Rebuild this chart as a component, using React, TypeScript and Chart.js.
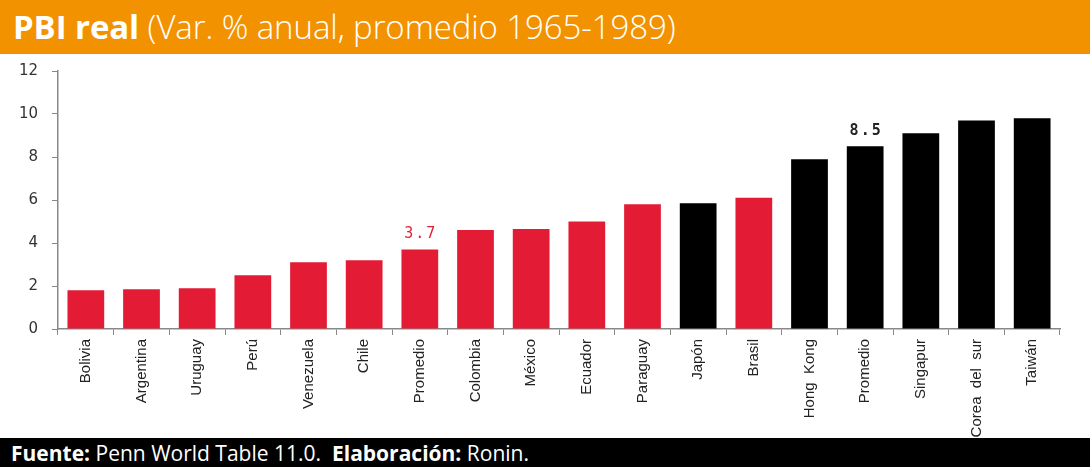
import React, { useEffect, useRef } from 'react';
import { Chart, registerables } from 'chart.js';

Chart.register(...registerables);

const categories = [
  'Bolivia', 'Argentina', 'Uruguay', 'Perú', 'Venezuela', 'Chile', 'Promedio',
  'Colombia', 'México', 'Ecuador', 'Paraguay', 'Japón', 'Brasil', 'Hong  Kong',
  'Promedio', 'Singapur', 'Corea  del  sur', 'Taiwán',
];
const growth = [1.8, 1.85, 1.9, 2.5, 3.1, 3.2, 3.7, 4.6, 4.65, 5.0, 5.8, 5.85, 6.1, 7.9, 8.5, 9.1, 9.7, 9.8];
// true = Asia (black), false = Latinoamérica (red)
const isAsia = [false, false, false, false, false, false, false, false, false, false, false, true, false, true, true, true, true, true];
// only the two averages get a value label
const labelled = [6, 14];
const yTicks = [0, 2, 4, 6, 8, 10, 12];

const RED = '#E31B35';
const BLACK = '#000000';

const valueLabels = {
  id: 'valueLabels',
  afterDatasetsDraw(chart: any) {
    const { ctx } = chart;
    const meta = chart.getDatasetMeta(0);
    ctx.save();
    ctx.textAlign = 'center';
    ctx.textBaseline = 'bottom';
    (ctx as any).letterSpacing = '2px';
    labelled.forEach((i) => {
      const bar = meta.data[i];
      ctx.font = (isAsia[i] ? 'bold ' : '') + '15px "DejaVu Sans Mono"';
      ctx.fillStyle = isAsia[i] ? '#222' : RED;
      ctx.fillText(growth[i].toFixed(1), bar.x + 1, bar.y - 8);
    });
    ctx.restore();
  },
};

const BarChart: React.FC = () => {
  const ref = useRef<HTMLCanvasElement | null>(null);

  useEffect(() => {
    if (!ref.current) return;
    const chart = new Chart(ref.current, {
      type: 'bar',
      data: {
        labels: categories,
        datasets: [
          {
            data: growth,
            backgroundColor: isAsia.map((a) => (a ? BLACK : RED)),
            categoryPercentage: 1,
            barPercentage: 0.66,
          },
        ],
      },
      options: {
        responsive: false,
        animation: false,
        layout: { padding: { top: 17, right: 30, left: 0, bottom: 0 } },
        plugins: { legend: { display: false }, tooltip: { enabled: false } },
        scales: {
          x: {
            grid: { drawOnChartArea: false, drawTicks: true, tickLength: 6, color: '#888', offset: true },
            border: { display: true, color: '#888', width: 1.5 },
            ticks: {
              minRotation: 90,
              maxRotation: 90,
              autoSkip: false,
              padding: 4,
              color: '#222',
              font: { family: '"Liberation Sans", Arial, sans-serif', size: 15 },
            },
            afterFit: (scale: any) => {
              scale.height = 109;
            },
          },
          y: {
            min: 0,
            max: 12,
            afterBuildTicks: (scale: any) => {
              scale.ticks = yTicks.map((v) => ({ value: v }));
            },
            grid: { drawOnChartArea: false, drawTicks: true, tickLength: 6, color: '#888' },
            border: { display: true, color: '#888', width: 1.5 },
            ticks: {
              padding: 14,
              color: '#333',
              font: { family: '"DejaVu Sans", sans-serif', size: 15 },
            },
            afterFit: (scale: any) => {
              scale.width = 58;
              scale.paddingTop = 0;
              scale.paddingBottom = 0;
            },
          },
        },
      },
      plugins: [valueLabels],
    });
    return () => chart.destroy();
  }, []);

  return <canvas ref={ref} width={1090} height={384} style={{ display: 'block' }} />;
};

export default function App() {
  useEffect(() => {
    document.body.style.margin = '0';
  }, []);

  return (
    <div style={{ width: 1090, height: 467, background: '#fff', overflow: 'hidden', fontFamily: '"Open Sans", sans-serif' }}>
      <div
        style={{
          height: 54,
          background: '#F39200',
          color: '#fff',
          fontSize: 33,
          lineHeight: '54px',
          paddingLeft: 13,
          whiteSpace: 'nowrap',
          letterSpacing: '-0.1px',
        }}
      >
        <span style={{ fontWeight: 700 }}>PBI real</span>
        <span style={{ fontWeight: 300 }}> (Var. % anual, promedio 1965-1989)</span>
      </div>
      <BarChart />
      <div
        style={{
          height: 29,
          background: '#000',
          color: '#fff',
          fontSize: 21,
          lineHeight: '31px',
          paddingLeft: 11,
          whiteSpace: 'pre',
        }}
      >
        <span style={{ fontWeight: 700 }}>Fuente:</span>
        <span> Penn World Table 11.0.  </span>
        <span style={{ fontWeight: 700 }}>Elaboración:</span>
        <span> Ronin.</span>
      </div>
    </div>
  );
}
